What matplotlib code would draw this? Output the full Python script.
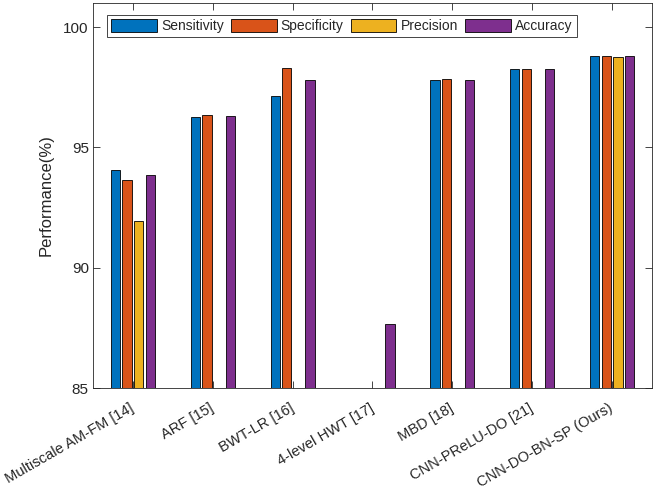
import numpy as np
import matplotlib
matplotlib.use("Agg")
import matplotlib.pyplot as plt

plt.rcParams['font.family'] = ['Liberation Sans', 'DejaVu Sans']

###### Data ######
methods = ['Multiscale AM-FM [14]', 'ARF [15]', 'BWT-LR [16]', '4-level HWT [17]',
           'MBD [18]', 'CNN-PReLU-DO [21]', 'CNN-DO-BN-SP (Ours)']
sensitivity = [94.08, 96.25, 97.14, np.nan, 97.79, 98.25, 98.78]
specificity = [93.65, 96.33, 98.28, np.nan, 97.83, 98.26, 98.78]
precision = [91.92, np.nan, np.nan, np.nan, np.nan, np.nan, 98.76]
accuracy = [93.85, 96.29, 97.78, 87.65, 97.82, 98.25, 98.78]
series_names = ['Sensitivity', 'Specificity', 'Precision', 'Accuracy']
colors = ['#0072BD', '#D95319', '#EDB120', '#7E2F8E']
txt = '#262626'

fig = plt.figure(figsize=(6.53, 4.9), dpi=100)
ax = fig.add_axes([93/653, 102/490, 559/653, 385/490])

x = np.arange(1, len(methods) + 1)
step = 0.8 * 4 / 5.5 / 4   # matlab grouped bar spacing
width = 0.8 * step
for i, (vals, name) in enumerate(zip([sensitivity, specificity, precision, accuracy], series_names)):
    ax.bar(x + (i - 1.5) * step, vals, width, color=colors[i], edgecolor='black',
           linewidth=0.6, label=name, zorder=2)

ax.set_xlim(0.5, 7.5)
ax.set_ylim(85, 101)
ax.set_yticks([85, 90, 95, 100])
ax.set_xticks(x)
ax.tick_params(direction='in', length=5, width=0.6, top=True, right=True, colors=txt)
ax.tick_params(axis='y', pad=3, labelsize=11)
ax.tick_params(axis='x', pad=14, labelsize=10.5)
ax.set_xticklabels(methods, rotation=30, ha='right', va='center', rotation_mode='anchor')
ax.set_ylabel('Performance(%)', fontsize=12, color=txt, labelpad=7)

for s in ax.spines.values():
    s.set_color(txt)
    s.set_linewidth(0.6)

leg = ax.legend(ncol=4, loc='center', bbox_to_anchor=(0.445, 0.94), fontsize=10,
                handlelength=3.3, handleheight=1.1, columnspacing=0.5, handletextpad=0.3,
                fancybox=False, framealpha=1, edgecolor=txt, borderpad=0.3)
leg.get_frame().set_linewidth(0.6)
for t in leg.get_texts():
    t.set_color(txt)

fig.savefig('out.png', dpi=100)
